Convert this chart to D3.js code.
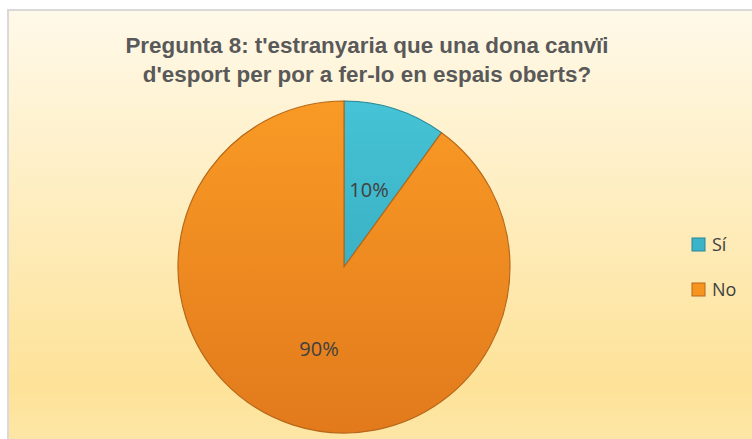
<!DOCTYPE html>
<html><head><meta charset="utf-8">
<script src="https://cdn.jsdelivr.net/npm/d3@7"></script>
<style>body{margin:0;background:#fff;} svg{display:block;}</style>
</head><body>
<svg id="c" width="752" height="439"></svg>
<script>
const titleLines = ["Pregunta 8: t'estranyaria que una dona canvïi", "d'esport per por a fer-lo en espais oberts?"];
const categories = ["Sí", "No"];
const values = [10, 90];
const labels = ["10%", "90%"];
const colors = ["#3bb4c9", "#f7931f"];

const svg = d3.select("#c");
const defs = svg.append("defs");
const bg = defs.append("linearGradient").attr("id","bg").attr("x1",0).attr("y1",0).attr("x2",0).attr("y2",1);
bg.append("stop").attr("offset","0%").attr("stop-color","#fff9e9");
bg.append("stop").attr("offset","85%").attr("stop-color","#fde298");
bg.append("stop").attr("offset","100%").attr("stop-color","#fde7a8");

svg.append("rect").attr("x",8).attr("y",10).attr("width",760).attr("height",440)
  .attr("fill","url(#bg)").attr("stroke","#d9d9d9").attr("stroke-width",2);

const tg = svg.append("text").attr("text-anchor","middle")
  .attr("font-family","Liberation Sans, Arial, sans-serif").attr("font-weight","bold")
  .attr("font-size",22.4).attr("fill","#595959");
titleLines.forEach((t,i)=>tg.append("tspan").attr("x",367).attr("y",53+i*29).text(t));

const grads = [["#46c3d6","#2f9fb3"],["#f99a25","#e27a1c"]];
grads.forEach((g,i)=>{
  const lg = defs.append("linearGradient").attr("id","g"+i).attr("gradientUnits","userSpaceOnUse")
    .attr("x1",0).attr("y1",-166).attr("x2",0).attr("y2",166);
  lg.append("stop").attr("offset","0%").attr("stop-color",g[0]);
  lg.append("stop").attr("offset","100%").attr("stop-color",g[1]);
});

const cx = 344, cy = 267, r = 166;
const pie = d3.pie().sort(null).value(d=>d)(values);
const arc = d3.arc().innerRadius(0).outerRadius(r);
const g = svg.append("g").attr("transform",`translate(${cx},${cy})`);
g.selectAll("path").data(pie).join("path")
  .attr("d",arc).attr("fill",(d,i)=>`url(#g${i})`)
  .attr("stroke",(d,i)=>i===0?"#2a8696":"#b8681a").attr("stroke-width",1.2);

const labelPos = [[25,-70],[-25,89]];
g.selectAll("text.l").data(pie).join("text").attr("class","l")
  .attr("x",(d,i)=>labelPos[i][0]).attr("y",(d,i)=>labelPos[i][1])
  .attr("text-anchor","middle").attr("font-family","Open Sans, Liberation Sans, sans-serif")
  .attr("font-size",20).attr("fill","#404040").text((d,i)=>labels[i]);

const lg = svg.append("g");
categories.forEach((c,i)=>{
  const y = 238 + i*45;
  lg.append("rect").attr("x",692).attr("y",y).attr("width",13).attr("height",13)
    .attr("fill",colors[i]).attr("stroke",i===0?"#2a8696":"#b8681a").attr("stroke-width",1);
  lg.append("text").attr("x",712).attr("y",y+13).attr("font-family","Open Sans, Liberation Sans, sans-serif")
    .attr("font-size",18).attr("fill","#404040").text(c);
});
</script>
</body></html>
